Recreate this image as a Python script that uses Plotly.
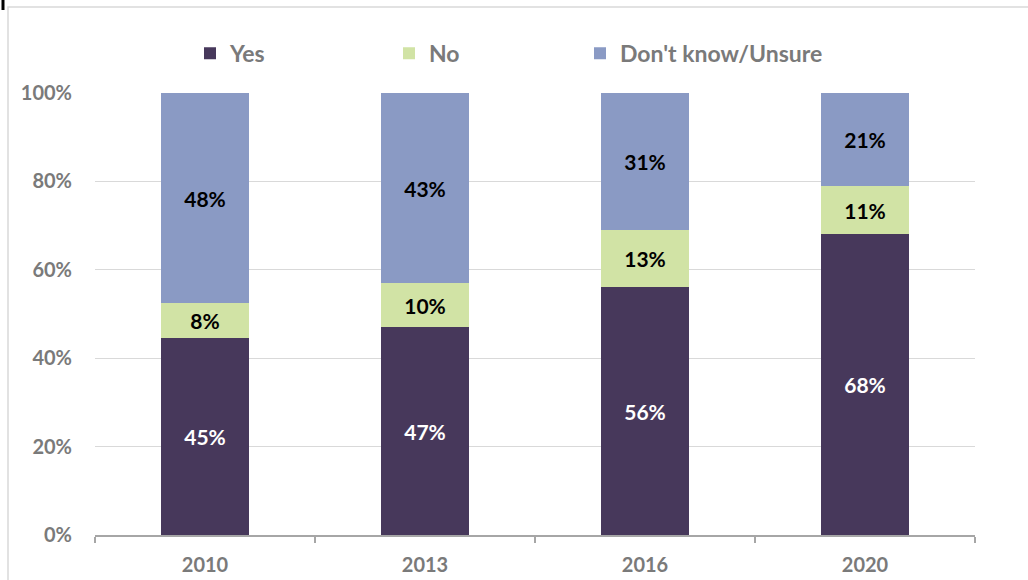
import plotly.graph_objects as go

years = ["2010", "2013", "2016", "2020"]
yes_vals = [45, 47, 56, 68]
no_vals = [8, 10, 13, 11]
dk_vals = [48, 43, 31, 21]
series_names = ["Yes", "No", "Don't know/Unsure"]
tick_vals = [0, 20, 40, 60, 80, 100]
tick_text = ["0%", "20%", "40%", "60%", "80%", "100%"]

colors = ["#47385b", "#d1e3a5", "#8a9ac4"]
text_colors = ["white", "black", "black"]
legend_ids = ["legend", "legend2", "legend3"]
legend_left_px = [190, 389, 580]
FONT = "Lato"
GRAY = "#7a7a7a"

fig = go.Figure()
for name, vals, col, tc, lid in zip(series_names, [yes_vals, no_vals, dk_vals], colors, text_colors, legend_ids):
    fig.add_trace(go.Bar(
        x=years, y=vals, name=name, legend=lid,
        marker=dict(color=col, line=dict(width=0)),
        text=[f"{v}%" for v in vals],
        textposition="inside", insidetextanchor="middle",
        textfont=dict(family=FONT, size=21, color=tc, weight="bold"),
        constraintext="none",
        hoverinfo="skip",
    ))

legend_common = dict(orientation="h", xanchor="left", y=1.09, yanchor="middle",
                     font=dict(family=FONT, size=23, color=GRAY, weight="bold"),
                     itemclick=False, itemdoubleclick=False, bgcolor="rgba(0,0,0,0)")
legend_layout = {lid: dict(legend_common, x=(px - 95) / 880) for lid, px in zip(legend_ids, legend_left_px)}

fig.update_layout(
    barmode="stack", barnorm="percent", bargap=0.6,
    width=1028, height=580,
    margin=dict(l=95, r=53, t=93, b=45, autoexpand=False),
    paper_bgcolor="white", plot_bgcolor="white",
    font=dict(family=FONT, color=GRAY, size=20, weight="bold"),
    showlegend=True,
    xaxis=dict(showgrid=False, showline=True, linecolor="#a6a6a6", linewidth=1.5,
               ticks="outside", tickson="boundaries", ticklen=6, tickcolor="#a6a6a6",
               tickwidth=1.5, ticklabelstandoff=11, automargin=False,
               tickfont=dict(family=FONT, size=20, color=GRAY, weight="bold")),
    yaxis=dict(range=[0, 100], tickvals=tick_vals, ticktext=tick_text,
               showgrid=True, gridcolor="#d9d9d9", gridwidth=1, zeroline=False,
               showline=False, ticklabelstandoff=22, automargin=False,
               tickfont=dict(family=FONT, size=20, color=GRAY, weight="bold")),
    shapes=[
        dict(type="rect", xref="paper", yref="paper",
             x0=(8 - 95) / 880, x1=1.2, y0=-0.3, y1=(535 - 7) / 442,
             line=dict(color="#d9d9d9", width=1.5), fillcolor="rgba(0,0,0,0)", layer="below"),
        dict(type="line", xref="paper", yref="paper",
             x0=(3 - 95) / 880, x1=(3 - 95) / 880, y0=(535 - 0) / 442, y1=(535 - 10) / 442,
             line=dict(color="black", width=3)),
    ],
    **legend_layout,
)

fig.write_html("out.html", config={"displayModeBar": False},
               post_script="document.body.style.margin='0';")
